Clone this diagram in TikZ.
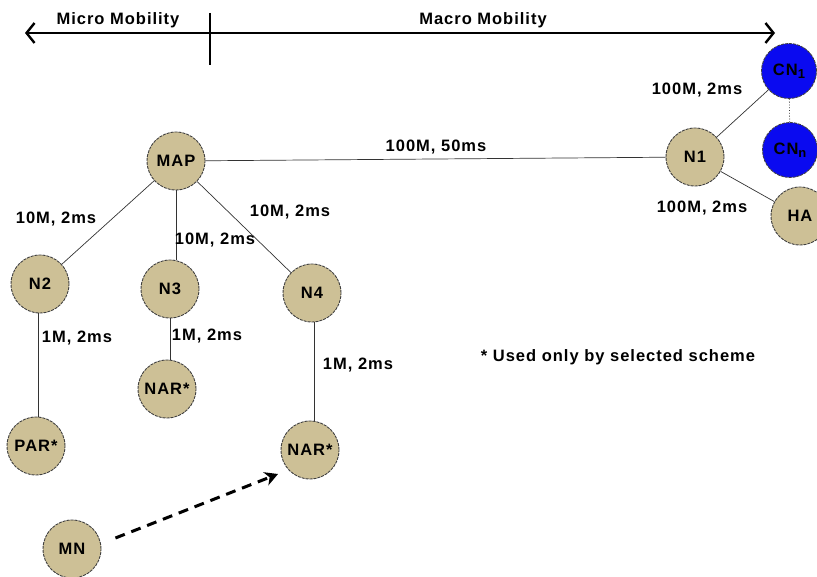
\documentclass[tikz,border=0pt]{standalone}
\usepackage{fontspec}
\setmainfont{Liberation Sans}[LetterSpace=6]
\usetikzlibrary{arrows.meta}
\definecolor{tan}{RGB}{205,192,150}
\definecolor{cnblue}{RGB}{10,10,240}
\newcommand{\mysub}[1]{\raisebox{-3pt}{\fontsize{13}{13}\selectfont #1}}
\tikzset{
  nd/.style={circle, minimum size=58pt, inner sep=0pt, fill=tan, draw=black!75, line width=0.9pt, dash pattern=on 3pt off 1pt, font=\fontsize{16.5}{18}\selectfont\bfseries},
  cn/.style={nd, fill=cnblue, minimum size=55pt},
  lnk/.style={draw=black!80, line width=0.7pt},
  lbl/.style={font=\fontsize{16.5}{18}\selectfont\bfseries, inner sep=0pt},
}
\begin{document}
\begin{tikzpicture}[x=1pt,y=-1pt]
\useasboundingbox (0,0) rectangle (817,577);
\clip (0,0) rectangle (817,577);
% scope arrow
\coordinate (L) at (25,33);
\coordinate (R) at (775,33);
\coordinate (Dt) at (210,13);
\coordinate (Db) at (210,65);
\draw[line width=2.4pt, {Straight Barb[length=8pt,width=20pt]}-{Straight Barb[length=8pt,width=20pt]}] (L) -- (R);
\draw[line width=2pt] (Dt) -- (Db);
\node[lbl] (micro) at (118,20) {Micro Mobility};
\node[lbl] (macro) at (483,20) {Macro Mobility};
% nodes
\node[nd] (MAP) at (176,161) {MAP};
\node[nd] (N1) at (695,157) {N1};
\node[cn] (CN1) at (789,71) {CN\mysub{1}};
\node[cn] (CNn) at (790,150) {CN\mysub{n}};
\node[nd] (HA) at (800,216) {HA};
\node[nd] (N2) at (40,284) {N2};
\node[nd] (N3) at (170,289) {N3};
\node[nd] (N4) at (312,293) {N4};
\node[nd] (NARa) at (167,389) {NAR*};
\node[nd] (PAR) at (36,446) {PAR*};
\node[nd] (NARb) at (310,450) {NAR*};
\node[nd] (MN) at (72,549) {MN};
% links
\draw[lnk] (MAP) -- (N1);
\draw[lnk] (MAP) -- (N2);
\draw[lnk] (MAP.south) -- (MAP.south |- N3.north);
\draw[lnk] (MAP) -- (N4);
\draw[lnk] ([xshift=-2pt]N2.south) -- ([xshift=-2pt]N2.south |- PAR.north);
\draw[lnk] (N3.south) -- (N3.south |- NARa.north);
\draw[lnk] ([xshift=2pt]N4.south) -- ([xshift=2pt]N4.south |- NARb.north);
\draw[lnk] (N1) -- (CN1);
\draw[lnk] (N1) -- (HA);
\draw[draw=black!80, line width=0.8pt, dotted] (CN1) -- (CNn);
\coordinate (tip) at (278,474);
\draw[line width=3pt, dash pattern=on 10pt off 7pt, -{Stealth[length=13pt,width=14pt,inset=4pt]}] (MN.east) ++(14,-11) -- (tip);
% labels
\node[lbl] (l1) at (436,147) {100M, 50ms};
\node[lbl] (l2) at (697,90) {100M, 2ms};
\node[lbl] (l3) at (702,208) {100M, 2ms};
\node[lbl] (l4) at (56,219) {10M, 2ms};
\node[lbl] (l5) at (215,240) {10M, 2ms};
\node[lbl] (l6) at (290,212) {10M, 2ms};
\node[lbl] (l7) at (77,338) {1M, 2ms};
\node[lbl] (l8) at (207,336) {1M, 2ms};
\node[lbl] (l9) at (358,365) {1M, 2ms};
\node[lbl] (note) at (618,357) {* Used only by selected scheme};
\end{tikzpicture}
\end{document}
